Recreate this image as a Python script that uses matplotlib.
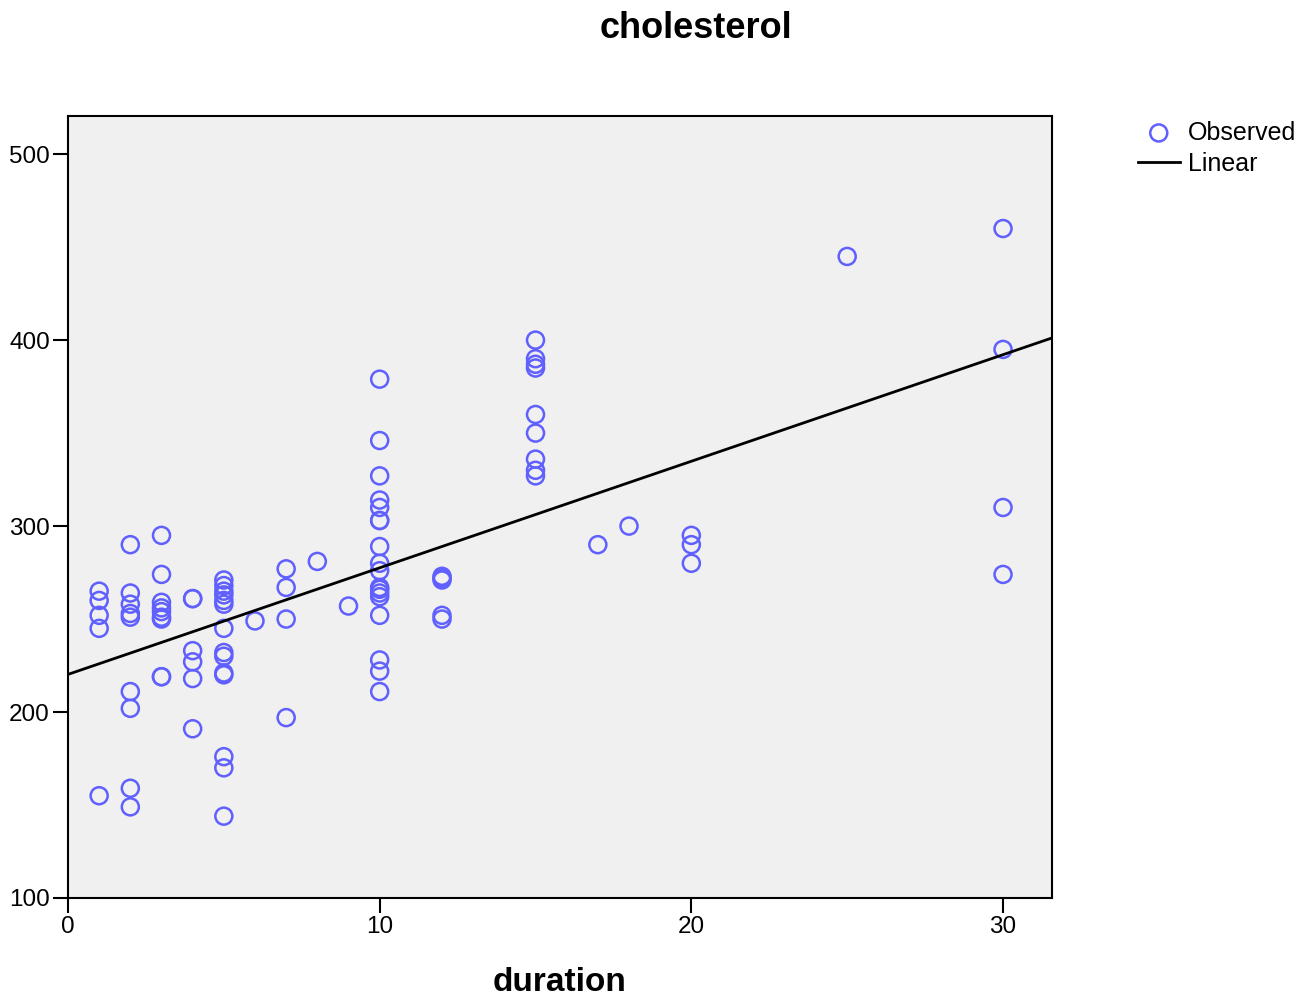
import matplotlib.pyplot as plt
import numpy as np

# duration (years) and observed cholesterol
duration = [
    1, 1, 1, 1, 1,
    2, 2, 2, 2, 2, 2, 2, 2, 2,
    3, 3, 3, 3, 3, 3, 3, 3, 3,
    4, 4, 4, 4, 4, 4,
    5, 5, 5, 5, 5, 5, 5, 5, 5, 5, 5, 5, 5, 5,
    6,
    7, 7, 7, 7,
    8, 9,
    10, 10, 10, 10, 10, 10, 10, 10, 10, 10, 10, 10, 10, 10, 10, 10, 10, 10,
    12, 12, 12, 12, 12,
    15, 15, 15, 15, 15, 15, 15, 15, 15,
    17, 18,
    20, 20, 20,
    25,
    30, 30, 30, 30,
]
cholesterol = [
    265, 260, 252, 245, 155,
    290, 264, 258, 253, 251, 211, 202, 159, 149,
    295, 274, 259, 256, 254, 251, 250, 219, 219,
    261, 261, 233, 227, 218, 191,
    271, 268, 265, 263, 260, 258, 245, 232, 230, 221, 220, 176, 170, 144,
    249,
    277, 267, 250, 197,
    281, 257,
    379, 346, 327, 314, 310, 303, 303, 289, 280, 276, 267, 266, 264, 262, 252, 228, 222, 211,
    273, 272, 271, 252, 250,
    400, 390, 387, 385, 360, 350, 336, 330, 327,
    290, 300,
    295, 290, 280,
    445,
    460, 395, 310, 274,
]

x_ticks = [0, 10, 20, 30]
y_ticks = [100, 200, 300, 400, 500]


def main() -> None:
    plt.rcParams["font.family"] = ["Liberation Sans", "DejaVu Sans"]
    fig = plt.figure(figsize=(13, 9.96), dpi=100)
    ax = fig.add_axes([0.0523, 0.0984, 0.7569, 0.7851])
    ax.set_facecolor("#f0f0f0")

    ax.scatter(duration, cholesterol, s=150, facecolors="none",
               edgecolors="#6060ff", linewidths=1.8, label="Observed", zorder=3)

    slope, intercept = np.polyfit(duration, cholesterol, 1)
    xlim = (0, 31.57)
    xs = np.array(xlim)
    ax.plot(xs, intercept + slope * xs, color="black", lw=2, label="Linear", zorder=4)

    ax.set_xlim(*xlim)
    ax.set_ylim(100, 520.5)
    ax.set_xticks(x_ticks)
    ax.set_yticks(y_ticks)
    ax.tick_params(direction="out", length=11, width=1.5, labelsize=17.5, pad=2)
    for sp in ax.spines.values():
        sp.set_linewidth(1.5)

    ax.set_xlabel("duration", fontsize=24, fontweight="bold", labelpad=21)
    fig.text(0.535, 0.971, "cholesterol", fontsize=26, fontweight="bold",
             ha="center", va="center")

    handles, labels = ax.get_legend_handles_labels()
    fig.legend(handles, labels, loc="upper left", bbox_to_anchor=(0.875, 0.879),
               frameon=False, fontsize=18, handlelength=1.7, handletextpad=0.32,
               labelspacing=0.3, borderaxespad=0, borderpad=0)

    fig.savefig("out.png", dpi=100)


if __name__ == "__main__":
    main()
